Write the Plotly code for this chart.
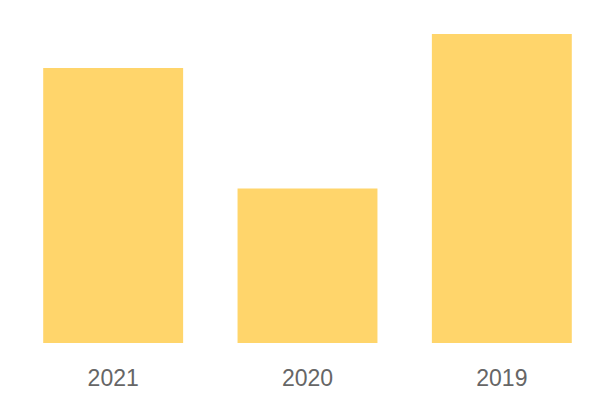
import plotly.graph_objects as go

years = ["2021", "2020", "2019"]
values = [89, 50, 100]

fig = go.Figure(go.Bar(x=years, y=values, marker=dict(color="#FFD56B", line=dict(width=0))))
fig.update_layout(
    width=600, height=400,
    margin=dict(l=8, r=9, t=26, b=65),
    paper_bgcolor="white", plot_bgcolor="white",
    bargap=0.28,
    showlegend=False,
    font=dict(family="Liberation Sans", color="#666666", size=23),
)
fig.update_xaxes(showgrid=False, showline=False, zeroline=False, ticks="",
                 tickfont=dict(family="Liberation Sans", size=23, color="#666666"),
                 ticklabelstandoff=19)
fig.update_yaxes(visible=False, range=[0, 100], showgrid=False, zeroline=False)
fig.write_html("out.html")
